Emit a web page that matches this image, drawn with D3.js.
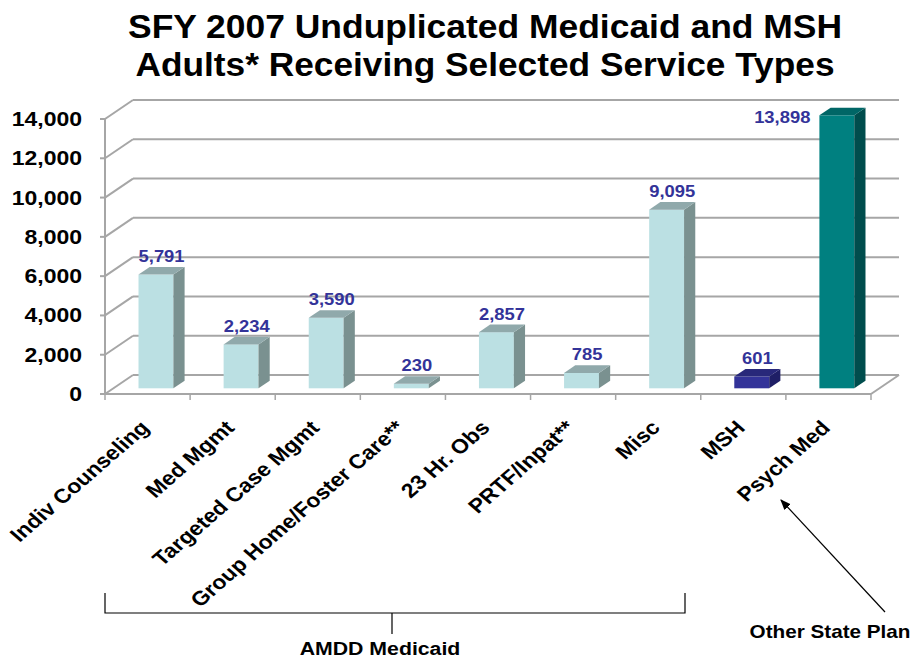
<!DOCTYPE html>
<html>
<head>
<meta charset="utf-8">
<script src="https://cdn.jsdelivr.net/npm/d3@7"></script>
<style>
  body { margin: 0; background: #fff; }
  text { font-family: "Liberation Sans", Arial, sans-serif; font-weight: bold; }
</style>
</head>
<body>
<div id="chart"></div>
<script>
// data
var categories = ["Indiv Counseling", "Med Mgmt", "Targeted Case Mgmt", "Group Home/Foster Care**",
                  "23 Hr. Obs", "PRTF/Inpat**", "Misc", "MSH", "Psych Med"];
var values = [5791, 2234, 3590, 230, 2857, 785, 9095, 601, 13898];
var groups = ["amdd", "amdd", "amdd", "amdd", "amdd", "amdd", "amdd", "msh", "psych"];
var yTicks = [0, 2000, 4000, 6000, 8000, 10000, 12000, 14000];

var W = 914, H = 659;
var x0 = 105, x1 = 871, yBase = 394, yTop = 119;
var dx = 28, dy = -19;        // depth of the 3d box
var f0 = 0.3, fd = 0.4;       // bar sits at 30%..70% of the depth
var sx = 1.15;                // the original is stretched sideways

var palette = {
  amdd:  { front: "#BBE0E3", side: "#7A9190", top: "#90A9AB" },
  msh:   { front: "#333399", side: "#1F1F66", top: "#28287A" },
  psych: { front: "#008080", side: "#004D4D", top: "#006666" }
};

var svg = d3.select("#chart").append("svg")
    .attr("width", W).attr("height", H);

var y = d3.scaleLinear().domain([0, 14000]).range([yBase, yTop]);
var x = d3.scaleBand().domain(categories).range([x0, x1])
    .paddingInner(0.59).paddingOuter(0.295);
var fmt = d3.format(",");
var grid = "#A6A6A6";

function tr(px, py) { return "translate(" + px + "," + py + ") scale(" + sx + ",1)"; }

// title
svg.append("text").attr("x", 485).attr("y", 38).attr("text-anchor", "middle")
  .attr("font-size", 33).attr("textLength", 714).attr("lengthAdjust", "spacingAndGlyphs")
  .text("SFY 2007 Unduplicated Medicaid and MSH");
svg.append("text").attr("x", 485).attr("y", 76).attr("text-anchor", "middle")
  .attr("font-size", 33).attr("textLength", 699).attr("lengthAdjust", "spacingAndGlyphs")
  .text("Adults* Receiving Selected Service Types");

// back wall grid + left wall slants
var g = svg.append("g");
g.selectAll(".grid").data(yTicks).enter().append("line")
  .attr("x1", x0 + dx).attr("x2", x1 + dx)
  .attr("y1", function(d) { return y(d) + dy; })
  .attr("y2", function(d) { return y(d) + dy; })
  .attr("stroke", grid).attr("stroke-width", 2);
g.selectAll(".slant").data(yTicks).enter().append("line")
  .attr("x1", x0).attr("x2", x0 + dx)
  .attr("y1", function(d) { return y(d); })
  .attr("y2", function(d) { return y(d) + dy; })
  .attr("stroke", grid).attr("stroke-width", 2);

// floor edges + axes
g.append("line").attr("x1", x0).attr("x2", x1).attr("y1", yBase).attr("y2", yBase)
  .attr("stroke", grid).attr("stroke-width", 2);
g.append("line").attr("x1", x1).attr("x2", x1 + dx).attr("y1", yBase).attr("y2", yBase + dy)
  .attr("stroke", grid).attr("stroke-width", 2);
g.append("line").attr("x1", x0).attr("x2", x0).attr("y1", yBase).attr("y2", yTop)
  .attr("stroke", grid).attr("stroke-width", 2);
g.selectAll(".ytick").data(yTicks).enter().append("line")
  .attr("x1", x0 - 5).attr("x2", x0)
  .attr("y1", function(d) { return y(d); }).attr("y2", function(d) { return y(d); })
  .attr("stroke", grid).attr("stroke-width", 2);
var bounds = categories.map(function(c) { return x(c) - x.step() * x.paddingInner() / 2; });
bounds.push(x1);
g.selectAll(".xtick").data(bounds).enter().append("line")
  .attr("x1", function(d) { return d; }).attr("x2", function(d) { return d; })
  .attr("y1", yBase).attr("y2", yBase + 6)
  .attr("stroke", grid).attr("stroke-width", 1.5);

// y labels
svg.selectAll(".ylab").data(yTicks).enter().append("text")
  .attr("transform", function(d) { return tr(82, y(d) + 7); })
  .attr("text-anchor", "end").attr("font-size", 20).attr("fill", "#000")
  .text(function(d) { return fmt(d); });

// bars
var bw = x.bandwidth();
var bars = svg.selectAll(".bar").data(values).enter().append("g");
bars.each(function(v, i) {
  var sel = d3.select(this), col = palette[groups[i]];
  var lx = x(categories[i]) + f0 * dx, rx = lx + bw;
  var by = yBase + f0 * dy, ty = y(v) + f0 * dy;
  var ox = fd * dx, oy = fd * dy;
  sel.append("rect").attr("x", lx).attr("y", ty).attr("width", bw).attr("height", by - ty)
    .attr("fill", col.front);
  sel.append("path").attr("fill", col.side)
    .attr("d", "M" + rx + "," + ty + "L" + (rx + ox) + "," + (ty + oy) +
               "L" + (rx + ox) + "," + (by + oy) + "L" + rx + "," + by + "Z");
  sel.append("path").attr("fill", col.top)
    .attr("d", "M" + lx + "," + ty + "L" + (lx + ox) + "," + (ty + oy) +
               "L" + (rx + ox) + "," + (ty + oy) + "L" + rx + "," + ty + "Z");
  var lab = sel.append("text").attr("font-size", 16).attr("fill", "#333399").text(fmt(v));
  if (v > 13000) {
    lab.attr("transform", tr(lx - 9, ty + 8)).attr("text-anchor", "end");
  } else {
    lab.attr("transform", tr(lx + bw / 2 + ox / 2, ty + oy - 5)).attr("text-anchor", "middle");
  }
});

// category labels
svg.selectAll(".xlab").data(categories).enter().append("text")
  .attr("text-anchor", "end").attr("font-size", 20)
  .attr("transform", function(d) {
    return tr(x(d) + bw / 2 + 3, 429) + " rotate(-45)";
  })
  .text(function(d) { return d; });

// bracket for AMDD Medicaid
svg.append("path").attr("fill", "none").attr("stroke", "#000").attr("stroke-width", 1.2)
  .attr("d", "M" + x0 + ",593V613H685V593M392,613V634");
svg.append("text").attr("transform", tr(380, 655)).attr("text-anchor", "middle")
  .attr("font-size", 18.5).text("AMDD Medicaid");

// arrow to Psych Med
svg.append("defs").append("marker").attr("id", "arr")
  .attr("viewBox", "0 0 10 10").attr("refX", 9).attr("refY", 5)
  .attr("markerWidth", 9).attr("markerHeight", 9).attr("orient", "auto")
  .append("path").attr("d", "M0,1L10,5L0,9Z").attr("fill", "#000");
svg.append("line").attr("x1", 885).attr("y1", 612).attr("x2", 781).attr("y2", 500)
  .attr("stroke", "#000").attr("stroke-width", 1.2).attr("marker-end", "url(#arr)");
svg.append("text").attr("transform", tr(830, 638)).attr("text-anchor", "middle")
  .attr("font-size", 18).text("Other State Plan");
</script>
</body>
</html>
